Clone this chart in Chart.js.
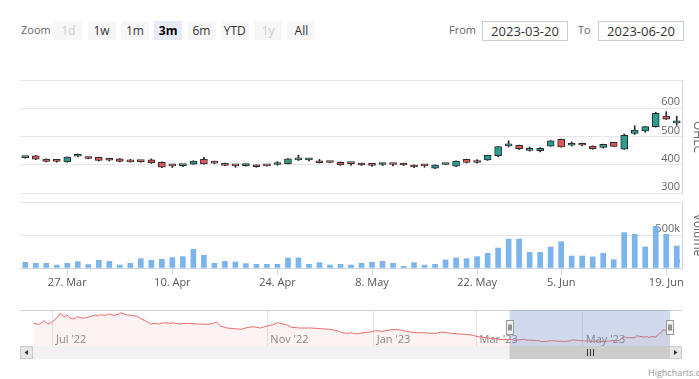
<!DOCTYPE html>
<html><head><meta charset="utf-8">
<script src="https://cdn.jsdelivr.net/npm/chart.js@4.4.1/dist/chart.umd.min.js"></script>
<style>
html,body{margin:0;padding:0;background:#fff;}
body{width:699px;height:379px;position:relative;overflow:hidden;font-family:'Open Sans',sans-serif;}
canvas{position:absolute;left:0;}
.lbl{position:absolute;top:20px;font-size:11px;line-height:20px;color:#666;white-space:nowrap;}
.btn{position:absolute;top:21px;height:19px;width:28px;background:#f7f7f7;font-size:12px;line-height:19px;text-align:center;color:#333;}
.btn.dis{color:#ccc;}
.btn.sel{background:#e6ebf5;font-weight:bold;color:#000;}
.inp{position:absolute;top:21px;height:18px;width:84px;border:1px solid #ccc;font-size:13px;line-height:18px;text-align:center;color:#333;background:#fff;}
.ttl{position:absolute;width:80px;height:14px;line-height:14px;font-size:12px;color:#666;text-align:center;transform:rotate(90deg);white-space:nowrap;}
.credit{position:absolute;left:648px;top:367px;font-size:9px;line-height:12px;color:#999;white-space:nowrap;}
</style>
</head>
<body>
<canvas id="c1" width="699" height="123" style="top:75px"></canvas>
<canvas id="c2" width="699" height="103" style="top:197px"></canvas>
<canvas id="c3" width="699" height="57" style="top:305px"></canvas>
<div id="ui"></div>
<script>
// ---------- DATA ----------
const dates = ['2023-03-21','2023-03-22','2023-03-23','2023-03-24','2023-03-27','2023-03-28','2023-03-29','2023-03-30','2023-03-31',
 '2023-04-03','2023-04-04','2023-04-05','2023-04-06','2023-04-07','2023-04-10','2023-04-11','2023-04-12','2023-04-13','2023-04-14',
 '2023-04-17','2023-04-18','2023-04-19','2023-04-20','2023-04-21','2023-04-24','2023-04-25','2023-04-26','2023-04-27','2023-04-28',
 '2023-05-01','2023-05-02','2023-05-03','2023-05-04','2023-05-08','2023-05-09','2023-05-10','2023-05-11','2023-05-12',
 '2023-05-15','2023-05-16','2023-05-17','2023-05-18','2023-05-19','2023-05-22','2023-05-23','2023-05-24','2023-05-25','2023-05-26',
 '2023-05-30','2023-05-31','2023-06-01','2023-06-05','2023-06-06','2023-06-07','2023-06-08','2023-06-09',
 '2023-06-12','2023-06-13','2023-06-14','2023-06-15','2023-06-16','2023-06-19','2023-06-20'];
const open  = [425,432,420,413,410,430,424,426,419,421,416,412,417,409,397,397,402,419,407,405,397,397,399,397,401,404,417,417,409,409,409,405,405,399,401,402,405,399,397,388,401,395,419,415,417,432,467,469,451,450,466,490,469,476,466,461,479,455,511,520,535,572,548];
const high  = [428,433,421,417,428,438,427,427,423,422,419,414,421,410,400,399,414,426,413,406,399,402,400,398,411,422,434,423,419,410,410,406,406,401,405,403,406,400,400,400,403,414,420,418,434,465,485,470,463,461,486,491,481,477,467,473,480,509,538,536,586,588,572];
const low   = [423,418,410,409,409,428,421,413,413,410,409,409,405,390,390,393,401,402,404,397,391,395,391,395,398,403,415,414,406,407,398,398,397,394,397,396,397,390,391,386,400,393,406,406,415,428,463,454,448,445,465,462,466,467,455,459,464,454,507,515,533,560,540];
const close = [426,420,412,412,427,431,422,415,416,412,410,411,407,391,396,398,413,403,406,398,396,398,393,396,404,421,418,418,407,408,399,404,399,398,401,401,399,392,396,399,402,413,408,408,433,464,469,457,453,458,485,463,471,469,457,472,465,504,523,535,582,561,550];
const volume = [86000,71000,71000,45000,71000,97000,52000,117000,101000,45000,71000,142000,117000,132000,157000,173000,283000,192000,71000,101000,91000,
 66000,56000,56000,56000,152000,152000,56000,81000,45000,56000,45000,71000,86000,101000,71000,26000,81000,45000,56000,121000,152000,
 141000,172000,222000,303000,439000,439000,237000,237000,318000,399000,182000,182000,167000,222000,126000,535000,510000,318000,631000,510000,333000];
const tickDates  = ['2023-03-27','2023-04-10','2023-04-24','2023-05-08','2023-05-22','2023-06-05','2023-06-19'];
const tickLabels = ['27. Mar','10. Apr','24. Apr','8. May','22. May','5. Jun','19. Jun'];

const navDates = ['2022-06-20','2022-06-23','2022-06-26','2022-06-28','2022-06-30','2022-07-02','2022-07-04','2022-07-05','2022-07-06','2022-07-08',
 '2022-07-09','2022-07-11','2022-07-13','2022-07-15','2022-07-18','2022-07-21','2022-07-25','2022-07-27','2022-07-28','2022-07-31',
 '2022-08-02','2022-08-05','2022-08-08','2022-08-09','2022-08-12','2022-08-15','2022-08-18','2022-08-20','2022-08-23','2022-08-26',
 '2022-08-28','2022-08-31','2022-09-03','2022-09-06','2022-09-08','2022-09-11','2022-09-16','2022-09-22','2022-09-28','2022-10-01',
 '2022-10-03','2022-10-05','2022-10-09','2022-10-13','2022-10-17','2022-10-21','2022-10-24','2022-10-28','2022-11-01','2022-11-04',
 '2022-11-07','2022-11-10','2022-11-12','2022-11-15','2022-11-20','2022-11-26','2022-12-02','2022-12-07','2022-12-11','2022-12-14',
 '2022-12-17','2022-12-19','2022-12-22','2022-12-26','2022-12-30','2023-01-02','2023-01-06','2023-01-10','2023-01-14','2023-01-18',
 '2023-01-22','2023-01-25','2023-01-29','2023-02-02','2023-02-06','2023-02-09','2023-02-12','2023-02-15','2023-02-19','2023-02-23',
 '2023-02-27','2023-03-02','2023-03-05','2023-03-08','2023-03-12','2023-03-15'];
const navValues = [684,668,726,673,694,737,801,844,817,790,
 822,764,753,790,764,780,817,801,822,812,
 833,812,833,854,822,812,801,764,726,673,
 684,673,694,684,694,673,684,673,668,684,
 705,641,609,598,588,620,630,609,641,662,
 694,673,662,620,609,609,598,588,566,534,
 524,534,513,534,545,566,556,577,588,566,
 545,534,534,524,524,545,534,524,513,508,
 492,470,460,449,438,425];
const navTickDates  = ['2022-07-01','2022-11-01','2023-01-01','2023-03-01','2023-05-01'];
const navTickLabels = ["Jul '22","Nov '22","Jan '23","Mar '23","May '23"];

const rangeButtons = ['1d','1w','1m','3m','6m','YTD','1y','All'];
const disabledButtons = ['1d','1y'];
const selectedButton = '3m';
const rangeFrom = '2023-03-20';
const rangeTo = '2023-06-20';

// ---------- STYLE ----------
const UP = '#2a9d8f', DOWN = '#e0575b', EDGE = '#2b2b2b';
Chart.defaults.font.family = "'Open Sans', sans-serif";
Chart.defaults.font.size = 11;
Chart.defaults.color = '#666';

// ---------- UI (range selector, inputs, titles, credits) ----------
const ui = document.getElementById('ui');
function addDiv(cls, text, css) {
  const d = document.createElement('div');
  d.className = cls; d.textContent = text; Object.assign(d.style, css); ui.appendChild(d); return d;
}
addDiv('lbl', 'Zoom', {left: '21px'});
rangeButtons.forEach((b, i) => {
  let cls = 'btn';
  if (disabledButtons.includes(b)) cls += ' dis';
  if (b === selectedButton) cls += ' sel';
  addDiv(cls, b, {left: (54.3 + i * 33.3) + 'px'});
});
addDiv('lbl', 'From', {left: '449px'});
addDiv('inp', rangeFrom, {left: '482px'});
addDiv('lbl', 'To', {left: '578px'});
addDiv('inp', rangeTo, {left: '598px'});
addDiv('ttl', 'OHLC', {left: '658px', top: '130px'});
addDiv('ttl', 'Volume', {left: '658px', top: '228px'});
addDiv('credit', 'Highcharts.com', {});

// ---------- CHART 1: candlesticks ----------
new Chart(document.getElementById('c1'), {
  type: 'bar',
  data: {
    labels: dates,
    datasets: [
      { data: dates.map((d, i) => [low[i], high[i]]), backgroundColor: EDGE, barThickness: 1, grouped: false, order: 2 },
      { data: dates.map((d, i) => [open[i], close[i]]),
        backgroundColor: dates.map((d, i) => close[i] >= open[i] ? UP : DOWN),
        borderColor: EDGE, borderWidth: 1, borderSkipped: false, barThickness: 7, minBarLength: 2, grouped: false, order: 1 }
    ]
  },
  options: {
    responsive: false, animation: false, devicePixelRatio: 1,
    layout: { padding: { left: 20, right: 17, top: 5, bottom: 5 } },
    plugins: { legend: { display: false }, tooltip: { enabled: false } },
    scales: {
      x: { type: 'category', offset: true, display: false },
      y: { position: 'right', min: 300, max: 700,
        ticks: { stepSize: 100, mirror: true, padding: -2, labelOffset: -6, color: '#666', callback: v => v === 700 ? '' : v },
        grid: { color: '#e6e6e6', drawTicks: false },
        border: { display: true, color: '#ccd6eb' },
        afterFit: s => { s.width = 0; } }
    }
  }
});

// ---------- CHART 2: volume + x axis ----------
new Chart(document.getElementById('c2'), {
  type: 'bar',
  data: { labels: dates, datasets: [{ data: volume, backgroundColor: '#7cb5ec', barThickness: 5 }] },
  options: {
    responsive: false, animation: false, devicePixelRatio: 1,
    layout: { padding: { left: 20, right: 17, top: 5, bottom: 0 } },
    plugins: { legend: { display: false }, tooltip: { enabled: false } },
    scales: {
      x: { type: 'category', offset: true,
        grid: { display: true, offset: false, drawOnChartArea: false, drawTicks: true, tickLength: 7, color: '#ccd6eb' },
        border: { display: true, color: '#ccd6eb' },
        afterBuildTicks: s => { s.ticks = s.ticks.filter(t => tickDates.includes(dates[t.value])); },
        ticks: { autoSkip: false, maxRotation: 0, padding: 1, color: '#555',
          callback: v => tickLabels[tickDates.indexOf(dates[v])] },
        afterFit: s => { s.height = 32; } },
      y: { position: 'right', min: 0, max: 1000000,
        ticks: { stepSize: 500000, mirror: true, padding: -2, labelOffset: -6, color: '#666',
          callback: v => v === 0 ? '0' : (v === 500000 ? '500k' : '') },
        grid: { color: c => c.tick && c.tick.value === 0 ? 'rgba(0,0,0,0)' : '#e6e6e6', drawTicks: false },
        border: { display: true, color: '#ccd6eb' },
        afterFit: s => { s.width = 0; } }
    }
  }
});

// ---------- CHART 3: navigator ----------
const DAY0 = Date.UTC(2022, 5, 20);
function dayOf(s) { const p = s.split('-').map(Number); return (Date.UTC(p[0], p[1] - 1, p[2]) - DAY0) / 864e5; }
const navData = navDates.map((d, i) => ({ x: dayOf(d), y: navValues[i] }))
  .concat(dates.map((d, i) => ({ x: dayOf(d), y: close[i] })));

const navigatorDecor = {
  id: 'navDecor',
  afterDatasetsDraw(chart) {
    const ctx = chart.ctx, a = chart.chartArea, xs = chart.scales.x;
    const L = xs.getPixelForValue(dayOf(rangeFrom)), R = xs.getPixelForValue(dayOf(rangeTo));
    ctx.save();
    // outline
    ctx.strokeStyle = '#d0d0d0'; ctx.lineWidth = 1;
    ctx.beginPath(); ctx.moveTo(a.left, a.top + 0.5); ctx.lineTo(a.right, a.top + 0.5); ctx.stroke();
    // mask
    ctx.fillStyle = 'rgba(102,133,194,0.3)';
    ctx.fillRect(L, a.top, R - L, a.bottom - a.top);
    // handles
    [L, R].forEach(x => {
      const hx = Math.round(x) - 3.5, hy = a.top + 10.5;
      ctx.fillStyle = '#f2f2f2'; ctx.strokeStyle = '#999'; ctx.lineWidth = 1;
      ctx.fillRect(hx, hy, 7, 14); ctx.strokeRect(hx, hy, 7, 14);
      ctx.strokeStyle = '#333';
      ctx.beginPath();
      ctx.moveTo(hx + 2.5, hy + 4); ctx.lineTo(hx + 2.5, hy + 10);
      ctx.moveTo(hx + 4.5, hy + 4); ctx.lineTo(hx + 4.5, hy + 10);
      ctx.stroke();
    });
    // scrollbar
    const sy = a.bottom, sh = 13;
    ctx.fillStyle = '#f2f2f2'; ctx.fillRect(a.left, sy, a.right - a.left, sh);
    ctx.fillStyle = '#cccccc'; ctx.fillRect(L, sy, R - L, sh);
    ctx.strokeStyle = '#333'; ctx.lineWidth = 1;
    const cx = Math.round((L + R) / 2);
    ctx.beginPath();
    [-3, 0, 3].forEach(o => { ctx.moveTo(cx + o + 0.5, sy + 3); ctx.lineTo(cx + o + 0.5, sy + 10); });
    ctx.stroke();
    // buttons
    [[a.left, -1], [a.right - 13, 1]].forEach(([bx, dir]) => {
      ctx.fillStyle = '#e6e6e6'; ctx.strokeStyle = '#cccccc';
      ctx.fillRect(bx, sy, 13, sh); ctx.strokeRect(bx + 0.5, sy + 0.5, 12, sh - 1);
      ctx.fillStyle = '#333';
      const mx = bx + 6.5, my = sy + 6.5;
      ctx.beginPath();
      ctx.moveTo(mx + dir * 2, my); ctx.lineTo(mx - dir * 1.5, my - 2.5); ctx.lineTo(mx - dir * 1.5, my + 2.5);
      ctx.closePath(); ctx.fill();
    });
    ctx.restore();
  }
};

new Chart(document.getElementById('c3'), {
  type: 'line',
  data: { datasets: [{ data: navData, borderColor: '#ee6b6e', borderWidth: 1, pointRadius: 0, tension: 0,
    fill: 'start', backgroundColor: 'rgba(244,91,91,0.07)' }] },
  options: {
    responsive: false, animation: false, devicePixelRatio: 1,
    layout: { padding: { left: 20, right: 17, top: 5, bottom: 16 } },
    plugins: { legend: { display: false }, tooltip: { enabled: false } },
    scales: {
      x: { type: 'linear', min: -7.92, max: 371.9,
        afterBuildTicks: s => { s.ticks = navTickDates.map(d => ({ value: dayOf(d) })); },
        ticks: { autoSkip: false, maxRotation: 0, align: 'start', mirror: true, labelOffset: 3, padding: 0, color: '#888',
          callback: (v, i) => navTickLabels[i] },
        grid: { color: '#e6e6e6', drawTicks: false },
        border: { display: false },
        afterFit: s => { s.height = 0; } },
      y: { display: false, min: 321, max: 897 }
    }
  },
  plugins: [navigatorDecor]
});
</script>
</body></html>
